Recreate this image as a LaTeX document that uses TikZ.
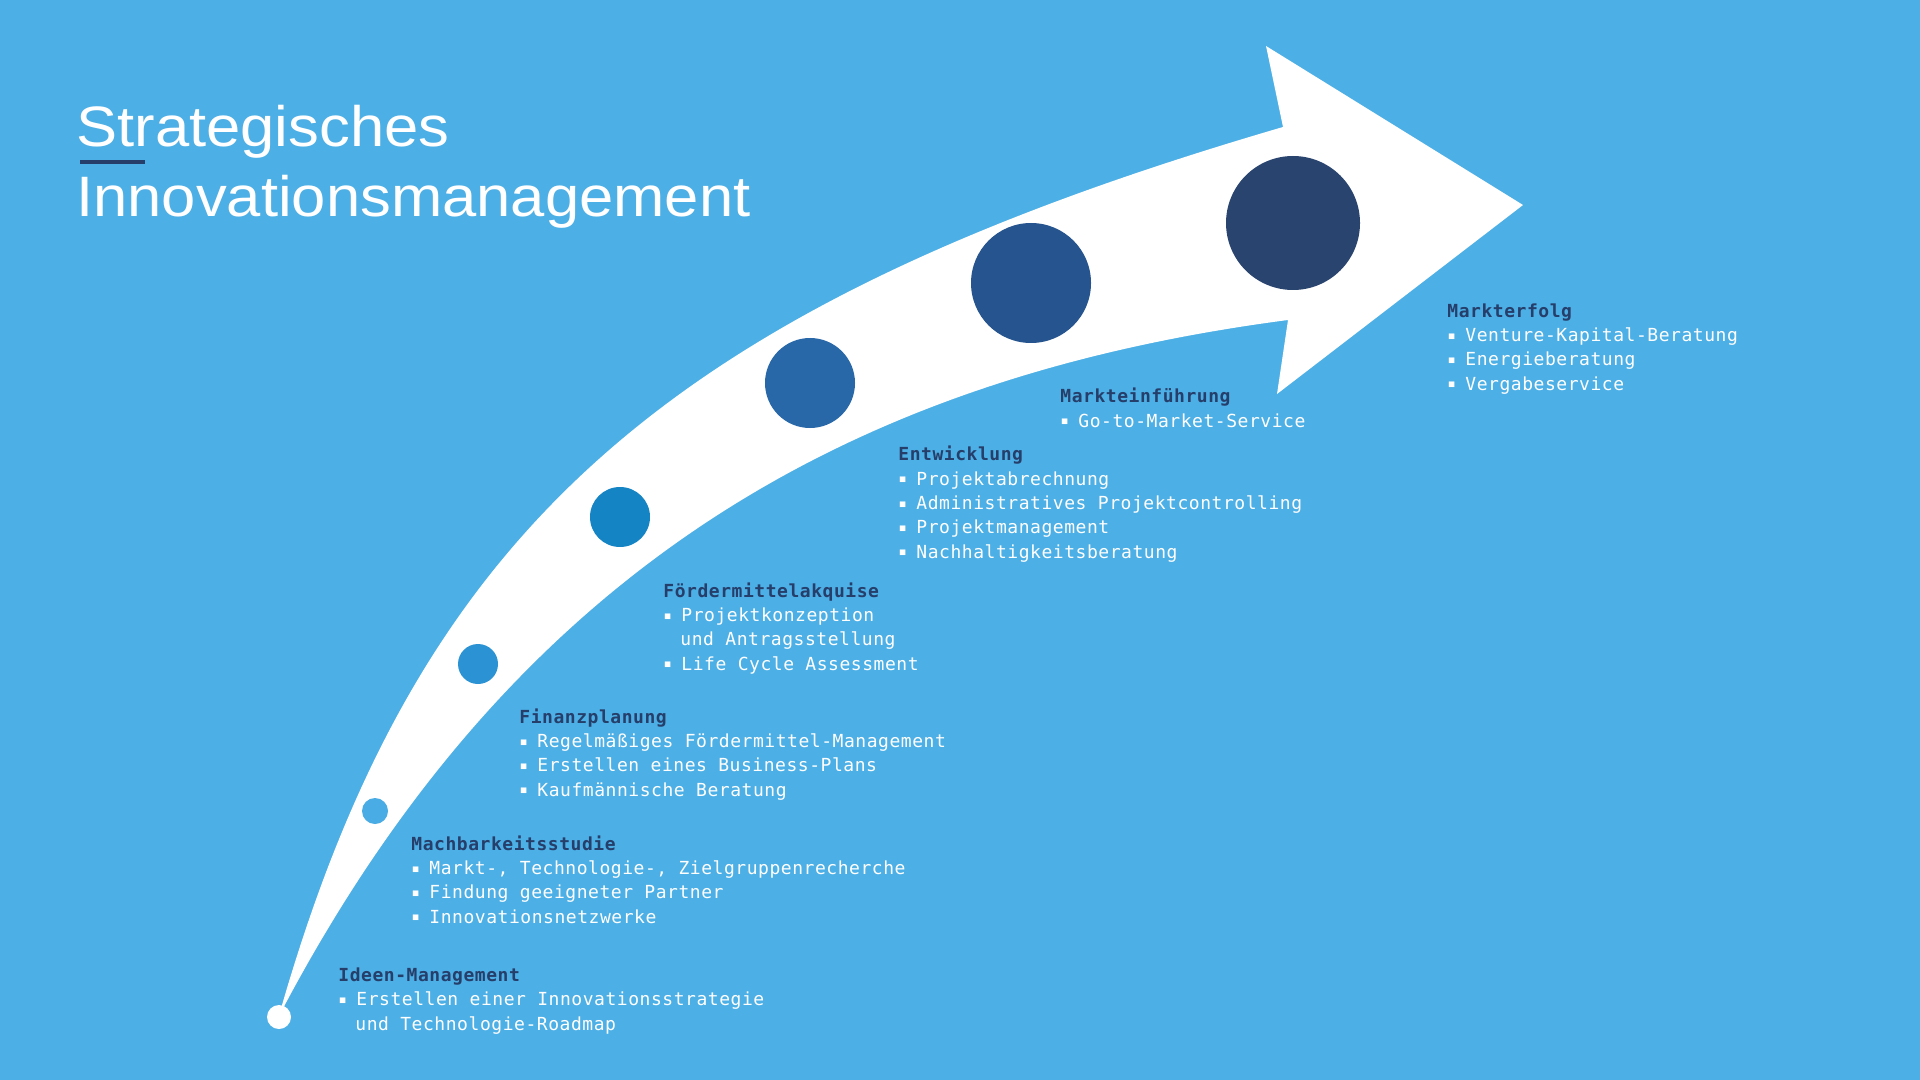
\documentclass[tikz,border=0pt]{standalone}
\usepackage{fontspec}
\setmainfont{Liberation Sans}
\newfontfamily\titlefont[FakeStretch=1.08]{Liberation Sans}
\newfontfamily\listfont[LetterSpace=3]{DejaVu Sans Mono}

\definecolor{fond}{RGB}{76,175,230}
\definecolor{marine}{RGB}{38,62,106}
\definecolor{etape1}{RGB}{74,172,228}
\definecolor{etape2}{RGB}{43,146,212}
\definecolor{etape3}{RGB}{21,132,196}
\definecolor{etape4}{RGB}{40,103,168}
\definecolor{etape5}{RGB}{38,84,142}
\definecolor{etape6}{RGB}{41,68,110}

\newcommand{\titre}[1]{{\bfseries\color{marine}#1}}
\newcommand{\puce}{\makebox[9pt][l]{\raisebox{0.7pt}{\scalebox{0.8}{▪}}}}
\newcommand{\suite}{\hspace*{8.5pt}}

\begin{document}
\begin{tikzpicture}[
        x=0.5pt, y=-0.5pt,
        dot/.style = {circle, inner sep=0pt, draw=none},
        stage/.style = {anchor=base west, align=left, inner sep=0pt, text=white,
            font=\listfont\fontsize{9}{12.15}\selectfont},
        headline/.style = {anchor=base west, inner sep=0pt, text=white,
            font=\titlefont\fontsize{28.5}{34}\selectfont}
    ]
        % Fond
        \fill[fond] (0,0) rectangle (1920,1080);
        \useasboundingbox (0,0) rectangle (1920,1080);

        % Titre
        \node[headline] (T1) at (76,147) {Strategisches};
        \node[headline] (T2) at (76,217) {Innovationsmanagement};
        \fill[marine] (80,160) rectangle (145,164);

        % Flèche courbe
        \fill[white] (280,1012) .. controls (419,527) and (670,306) .. (1283,127)
            -- (1266,46) -- (1523,205) -- (1277,394) -- (1288,320)
            .. controls (860,376) and (518,561) .. (280,1014) -- cycle;

        % Étapes (cercles)
        \node[dot, fill=white, minimum size=12pt] (s0) at (279,1017) {};
        \node[dot, fill=etape1, minimum size=13pt] (s1) at (375,811) {};
        \node[dot, fill=etape2, minimum size=20pt] (s2) at (478,664) {};
        \node[dot, fill=etape3, minimum size=30pt] (s3) at (620,517) {};
        \node[dot, fill=etape4, minimum size=45pt] (s4) at (810,383) {};
        \node[dot, fill=etape5, minimum size=60pt] (s5) at (1031,283) {};
        \node[dot, fill=etape6, minimum size=67pt] (s6) at (1293,223) {};

        % Textes (ancrés sur la ligne de base de la dernière ligne)
        \node[stage] (ideen) at (338,1030) {\titre{Ideen-Management}\\
            \puce Erstellen einer Innovationsstrategie\\
            \suite und Technologie-Roadmap};
        \node[stage] (machbar) at (411,923) {\titre{Machbarkeitsstudie}\\
            \puce Markt-, Technologie-, Zielgruppenrecherche\\
            \puce Findung geeigneter Partner\\
            \puce Innovationsnetzwerke};
        \node[stage] (finanz) at (519,796) {\titre{Finanzplanung}\\
            \puce Regelmäßiges Fördermittel-Management\\
            \puce Erstellen eines Business-Plans\\
            \puce Kaufmännische Beratung};
        \node[stage] (foerder) at (663,670) {\titre{Fördermittelakquise}\\
            \puce Projektkonzeption\\
            \suite und Antragsstellung\\
            \puce Life Cycle Assessment};
        \node[stage] (entw) at (898,558) {\titre{Entwicklung}\\
            \puce Projektabrechnung\\
            \puce Administratives Projektcontrolling\\
            \puce Projektmanagement\\
            \puce Nachhaltigkeitsberatung};
        \node[stage] (einf) at (1060,427) {\titre{Markteinführung}\\
            \puce Go-to-Market-Service};
        \node[stage] (erfolg) at (1447,390) {\titre{Markterfolg}\\
            \puce Venture-Kapital-Beratung\\
            \puce Energieberatung\\
            \puce Vergabeservice};

    \end{tikzpicture}
\end{document}
